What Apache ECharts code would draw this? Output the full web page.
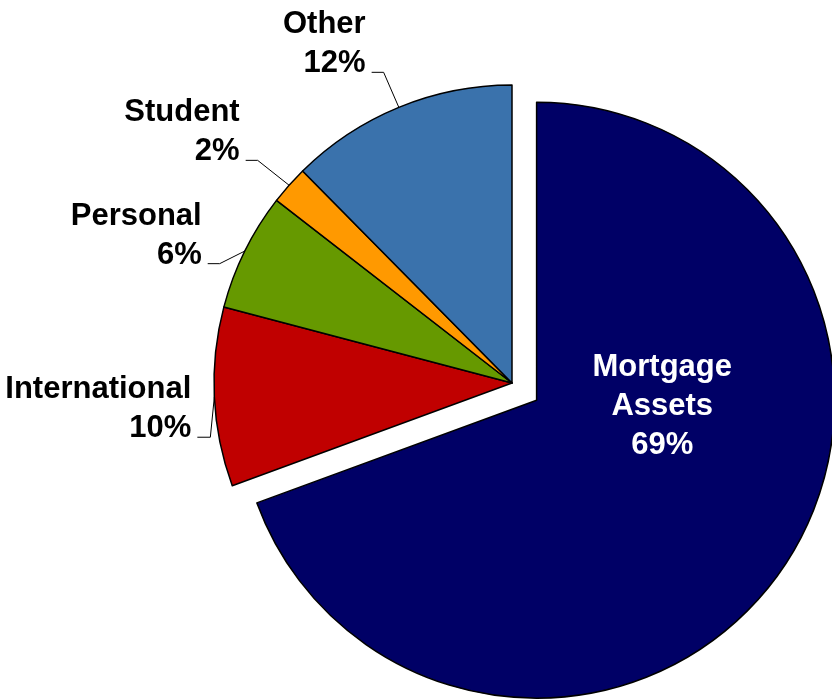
<!DOCTYPE html>
<html>
<head>
<meta charset="utf-8">
<script src="https://cdn.jsdelivr.net/npm/echarts@6/dist/echarts.min.js"></script>
<style>
  html, body { margin: 0; padding: 0; background: #fff; }
  #chart { width: 832px; height: 699px; }
</style>
</head>
<body>
<div id="chart"></div>
<script>
// slices, clockwise from 12 o'clock (shares)
var categories = ['Mortgage Assets', 'International', 'Personal', 'Student', 'Other'];
var shares = [69.4, 9.7, 6.4, 2.1, 12.4];
var colors = ['#000066', '#c00000', '#669900', '#ff9900', '#3a72ac'];

// label tweaks: leader line lengths, line shift (dy) and extra lift of the text above the line
var labelTweak = [
  { dx: 1, dy: -81 },
  { length: 4, length2: 13, dy: 40 },
  { length: 28, length2: 12, dy: 25 },
  { length: 42, length2: 12, dy: 3 },
  { length: 40, length2: 12, dy: 2 }
];
var textLift = 28;

var pieData = categories.map(function (name, i) {
  var item = { name: name, value: shares[i], itemStyle: { color: colors[i] } };
  if (i === 0) {
    item.selected = true;
    item.label = { position: 'inside', color: '#fff', align: 'center' };
    item.labelLine = { show: false };
  } else {
    item.labelLine = { length: labelTweak[i].length, length2: labelTweak[i].length2 };
  }
  return item;
});

var chart = echarts.init(document.getElementById('chart'));
chart.setOption({
  animation: false,
  series: [{
    type: 'pie',
    center: [512, 383],
    radius: 298,
    startAngle: 90,
    clockwise: true,
    selectedMode: 'single',
    selectedOffset: 30,
    avoidLabelOverlap: false,
    emphasis: { disabled: true },
    itemStyle: { borderColor: '#000', borderWidth: 1.5 },
    label: {
      position: 'outside',
      color: '#000',
      fontFamily: '"Liberation Sans", Arial, sans-serif',
      fontWeight: 'bold',
      fontSize: 31,
      lineHeight: 39,
      distanceToLabelLine: 6,
      formatter: function (p) {
        var name = p.dataIndex === 0 ? p.name.replace(' ', '\n') : p.name;
        return name + '\n' + Math.round(p.value) + '%';
      }
    },
    labelLine: {
      minTurnAngle: 0,
      maxSurfaceAngle: 180,
      lineStyle: { color: '#000', width: 1 }
    },
    labelLayout: function (p) {
      var t = labelTweak[p.dataIndex];
      var pts = p.labelLinePoints;
      if (p.dataIndex === 0 || !pts) return { dx: t.dx || 0, dy: t.dy };
      return {
        dy: t.dy - textLift,
        labelLinePoints: [
          pts[0],
          [pts[1][0], pts[1][1] + t.dy],
          [pts[2][0], pts[2][1] + t.dy]
        ]
      };
    },
    data: pieData
  }]
});
</script>
</body>
</html>
